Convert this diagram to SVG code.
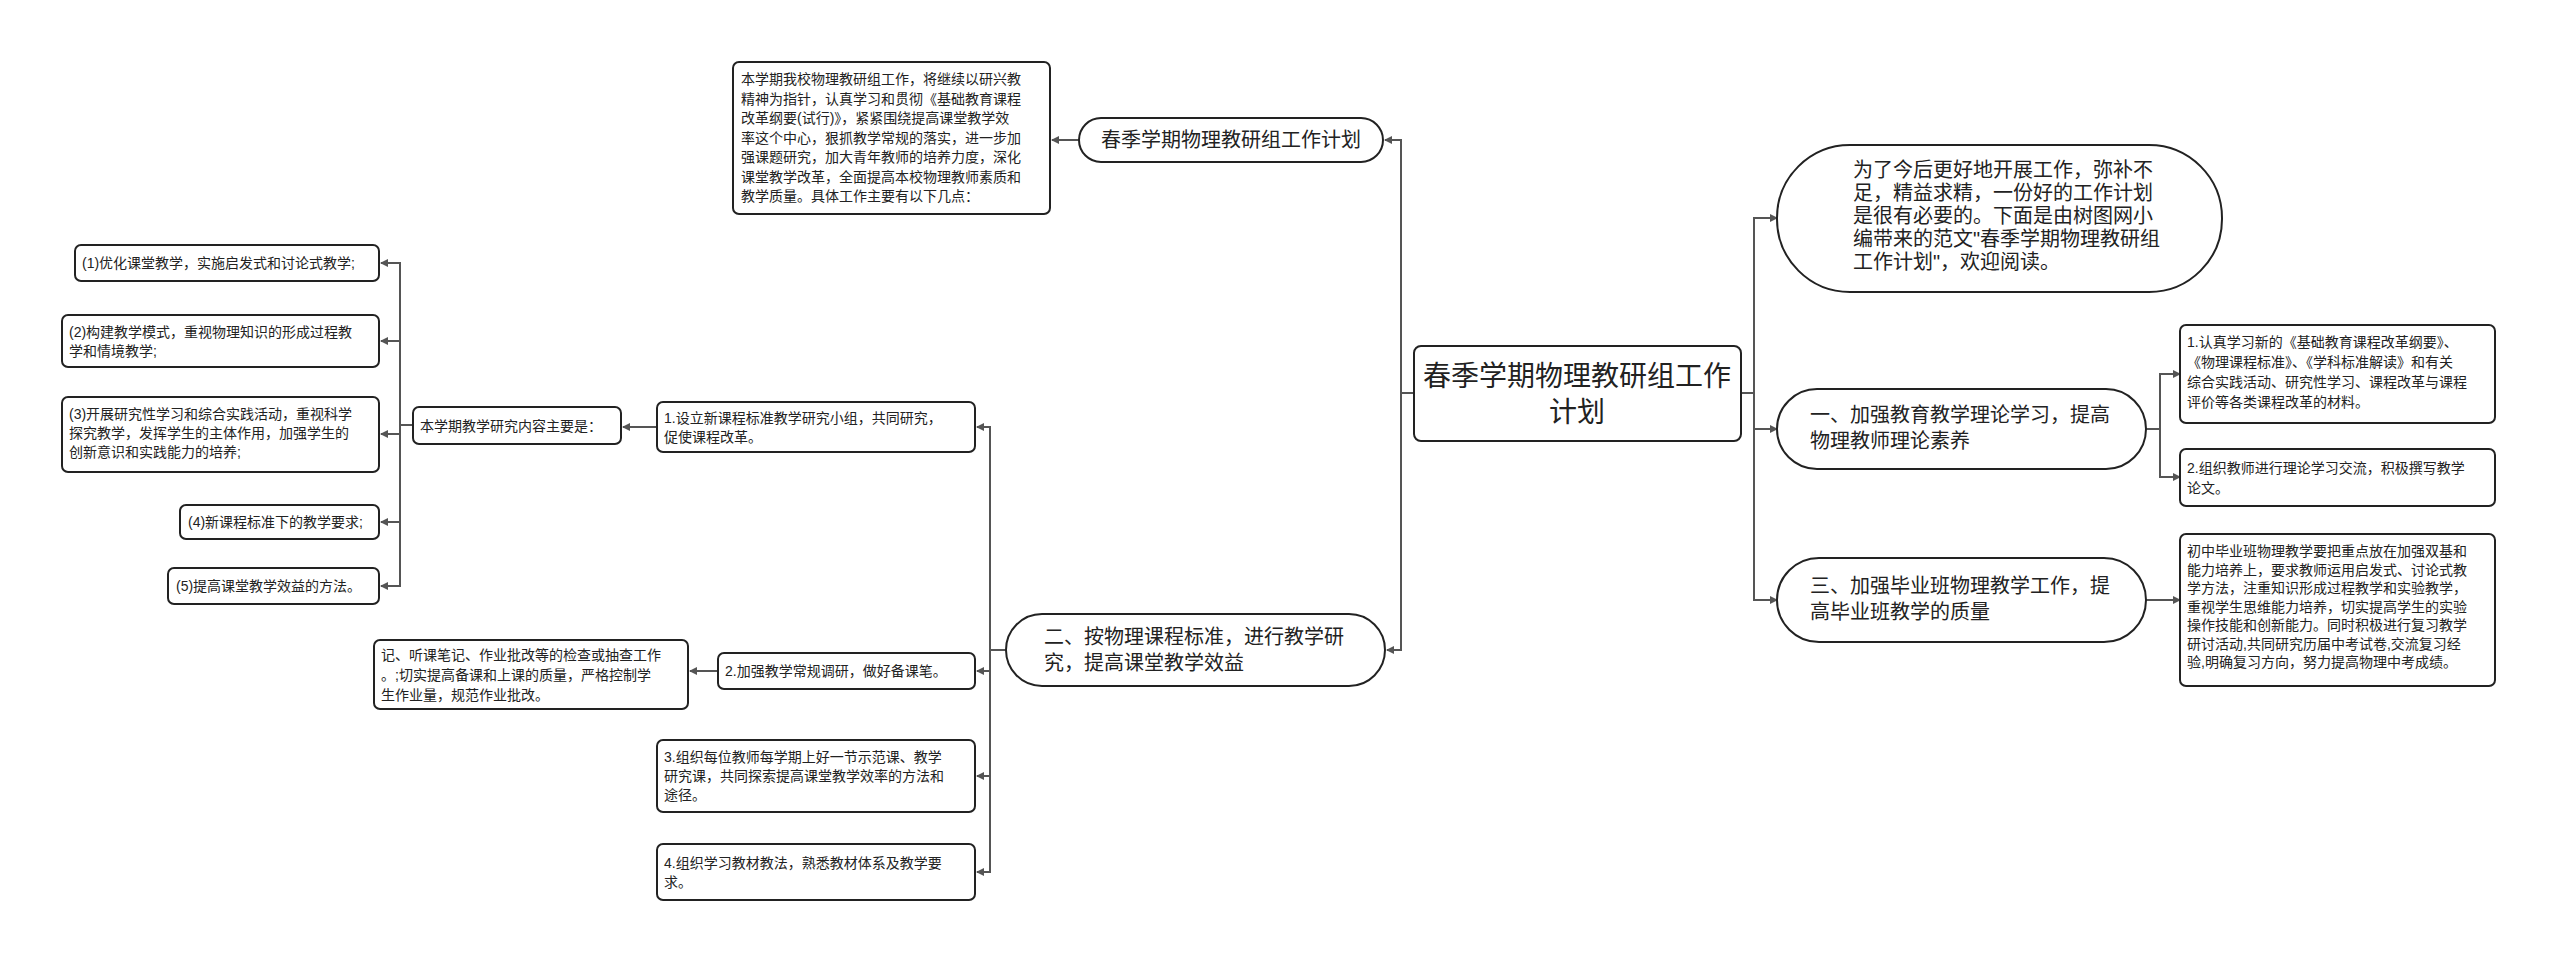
<svg xmlns="http://www.w3.org/2000/svg" width="2560" height="965" viewBox="0 0 2560 965">
<defs>
<marker id="a" markerWidth="8" markerHeight="8" refX="7" refY="4" orient="auto" markerUnits="userSpaceOnUse"><path d="M0,0 L8,4 L0,8 z" fill="#555"/></marker>
<style>
.n{fill:#fff;stroke:#222;stroke-width:2}
.t{font-family:"Liberation Sans","Noto Sans CJK SC",sans-serif;fill:#222}
.s{font-size:14px}
.m{font-size:20px}
.c path{fill:none;stroke:#555;stroke-width:2;marker-end:url(#a)}
</style>
</defs>
<rect width="2560" height="965" fill="#fff"/>
<g class="c">
<path d="M1414,393 H1401 V140 H1385"/>
<path d="M1414,393 H1401 V650 H1387"/>
<path d="M1741,393 H1754 V218 H1777"/>
<path d="M1741,393 H1754 V429 H1777"/>
<path d="M1741,393 H1754 V600 H1777"/>
<path d="M1079,140 H1052"/>
<path d="M2146,429 H2160 V374 H2180"/>
<path d="M2146,429 H2160 V477 H2180"/>
<path d="M2146,600 H2180"/>
<path d="M1006,650 H990 V427 H977"/>
<path d="M1006,650 H990 V671 H977"/>
<path d="M1006,650 H990 V776 H977"/>
<path d="M1006,650 H990 V872 H977"/>
<path d="M657,427 H623"/>
<path d="M413,425 H400 V263 H381"/>
<path d="M413,425 H400 V341 H381"/>
<path d="M413,425 H400 V434 H381"/>
<path d="M413,425 H400 V522 H381"/>
<path d="M413,425 H400 V586 H381"/>
<path d="M718,671 H690"/>
</g>
<g id="root"><rect class="n" x="1414" y="346" width="327" height="95" rx="7"/><text class="t" font-size="28" text-anchor="middle" x="1577" y="386">春季学期物理教研组工作<tspan x="1577" dy="36">计划</tspan></text></g>
<g id="title"><rect class="n" x="1079" y="118" width="304" height="44" rx="22"/><text class="t m" x="1231" y="147" text-anchor="middle">春季学期物理教研组工作计划</text></g>
<g id="intro"><rect class="n" x="733" y="62" width="317" height="152" rx="6"/><text class="t s" x="741" y="84">本学期我校物理教研组工作，将继续以研兴教<tspan x="741" dy="19.5">精神为指针，认真学习和贯彻《基础教育课程</tspan><tspan x="741" dy="19.5">改革纲要(试行)》，紧紧围绕提高课堂教学效</tspan><tspan x="741" dy="19.5">率这个中心，狠抓教学常规的落实，进一步加</tspan><tspan x="741" dy="19.5">强课题研究，加大青年教师的培养力度，深化</tspan><tspan x="741" dy="19.5">课堂教学改革，全面提高本校物理教师素质和</tspan><tspan x="741" dy="19.5">教学质量。具体工作主要有以下几点：</tspan></text></g>
<g id="lead"><rect class="n" x="1777" y="145" width="445" height="147" rx="73"/><text class="t m" x="1853" y="177">为了今后更好地开展工作，弥补不<tspan x="1853" dy="23">足，精益求精，一份好的工作计划</tspan><tspan x="1853" dy="23">是很有必要的。下面是由树图网小</tspan><tspan x="1853" dy="23">编带来的范文"春季学期物理教研组</tspan><tspan x="1853" dy="23">工作计划"，欢迎阅读。</tspan></text></g>
<g id="p1"><rect class="n" x="1777" y="389" width="369" height="80" rx="40"/><text class="t m" x="1810" y="422">一、加强教育教学理论学习，提高<tspan x="1810" dy="26">物理教师理论素养</tspan></text></g>
<g id="p1a"><rect class="n" x="2180" y="325" width="315" height="98" rx="6"/><text class="t s" x="2187" y="347">1.认真学习新的《基础教育课程改革纲要》、<tspan x="2187" dy="20">《物理课程标准》、《学科标准解读》和有关</tspan><tspan x="2187" dy="20">综合实践活动、研究性学习、课程改革与课程</tspan><tspan x="2187" dy="20">评价等各类课程改革的材料。</tspan></text></g>
<g id="p1b"><rect class="n" x="2180" y="449" width="315" height="57" rx="6"/><text class="t s" x="2187" y="473">2.组织教师进行理论学习交流，积极撰写教学<tspan x="2187" dy="20">论文。</tspan></text></g>
<g id="p3"><rect class="n" x="1777" y="558" width="369" height="84" rx="42"/><text class="t m" x="1810" y="593">三、加强毕业班物理教学工作，提<tspan x="1810" dy="26">高毕业班教学的质量</tspan></text></g>
<g id="p3a"><rect class="n" x="2180" y="534" width="315" height="152" rx="6"/><text class="t s" x="2187" y="556">初中毕业班物理教学要把重点放在加强双基和<tspan x="2187" dy="18.5">能力培养上，要求教师运用启发式、讨论式教</tspan><tspan x="2187" dy="18.5">学方法，注重知识形成过程教学和实验教学，</tspan><tspan x="2187" dy="18.5">重视学生思维能力培养，切实提高学生的实验</tspan><tspan x="2187" dy="18.5">操作技能和创新能力。同时积极进行复习教学</tspan><tspan x="2187" dy="18.5">研讨活动,共同研究历届中考试卷,交流复习经</tspan><tspan x="2187" dy="18.5">验,明确复习方向，努力提高物理中考成绩。</tspan></text></g>
<g id="p2"><rect class="n" x="1006" y="614" width="379" height="72" rx="36"/><text class="t m" x="1044" y="644">二、按物理课程标准，进行教学研<tspan x="1044" dy="26">究，提高课堂教学效益</tspan></text></g>
<g id="p2a"><rect class="n" x="657" y="402" width="318" height="50" rx="6"/><text class="t s" x="664" y="423">1.设立新课程标准教学研究小组，共同研究，<tspan x="664" dy="19">促使课程改革。</tspan></text></g>
<g id="p2a0"><rect class="n" x="413" y="407" width="208" height="37" rx="6"/><text class="t s" x="420" y="431">本学期教学研究内容主要是：</text></g>
<g id="q1"><rect class="n" x="75" y="245" width="304" height="36" rx="6"/><text class="t s" x="82" y="268">(1)优化课堂教学，实施启发式和讨论式教学;</text></g>
<g id="q2"><rect class="n" x="62" y="315" width="317" height="52" rx="6"/><text class="t s" x="69" y="337">(2)构建教学模式，重视物理知识的形成过程教<tspan x="69" dy="19">学和情境教学;</tspan></text></g>
<g id="q3"><rect class="n" x="62" y="397" width="317" height="75" rx="6"/><text class="t s" x="69" y="419">(3)开展研究性学习和综合实践活动，重视科学<tspan x="69" dy="19">探究教学，发挥学生的主体作用，加强学生的</tspan><tspan x="69" dy="19">创新意识和实践能力的培养;</tspan></text></g>
<g id="q4"><rect class="n" x="180" y="505" width="199" height="34" rx="6"/><text class="t s" x="188" y="527">(4)新课程标准下的教学要求;</text></g>
<g id="q5"><rect class="n" x="168" y="568" width="211" height="36" rx="6"/><text class="t s" x="176" y="591">(5)提高课堂教学效益的方法。</text></g>
<g id="p2b"><rect class="n" x="718" y="653" width="257" height="36" rx="6"/><text class="t s" x="725" y="676">2.加强教学常规调研，做好备课笔。</text></g>
<g id="p2b1"><rect class="n" x="374" y="640" width="314" height="69" rx="6"/><text class="t s" x="381" y="660">记、听课笔记、作业批改等的检查或抽查工作<tspan x="381" dy="20">。;切实提高备课和上课的质量，严格控制学</tspan><tspan x="381" dy="20">生作业量，规范作业批改。</tspan></text></g>
<g id="p2c"><rect class="n" x="657" y="740" width="318" height="72" rx="6"/><text class="t s" x="664" y="762">3.组织每位教师每学期上好一节示范课、教学<tspan x="664" dy="19">研究课，共同探索提高课堂教学效率的方法和</tspan><tspan x="664" dy="19">途径。</tspan></text></g>
<g id="p2d"><rect class="n" x="657" y="844" width="318" height="56" rx="6"/><text class="t s" x="664" y="868">4.组织学习教材教法，熟悉教材体系及教学要<tspan x="664" dy="19">求。</tspan></text></g>
</svg>
